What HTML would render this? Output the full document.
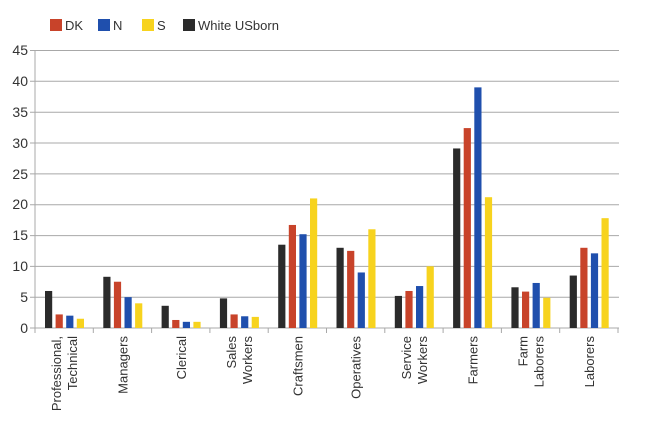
<!DOCTYPE html>
<html><head><meta charset="utf-8"><style>body{margin:0;background:#fff}svg{display:block}text{font-family:"Liberation Sans",sans-serif;fill:#333}</style></head><body>
<svg width="645" height="422" xmlns="http://www.w3.org/2000/svg">
<g font-size="13">
<rect x="50" y="19" width="12" height="12" fill="#c8432a"/><text x="65" y="30">DK</text>
<rect x="98" y="19" width="12" height="12" fill="#1f4fad"/><text x="113" y="30">N</text>
<rect x="142" y="19" width="12" height="12" fill="#f7d31e"/><text x="157" y="30">S</text>
<rect x="183" y="19" width="12" height="12" fill="#2b2b2b"/><text x="198" y="30">White USborn</text>
</g>
<g stroke="#a8a8a8" stroke-width="1">
<line x1="30" y1="50.5" x2="619" y2="50.5"/><line x1="30" y1="81.3" x2="619" y2="81.3"/><line x1="30" y1="112.2" x2="619" y2="112.2"/><line x1="30" y1="143" x2="619" y2="143"/><line x1="30" y1="173.9" x2="619" y2="173.9"/><line x1="30" y1="204.7" x2="619" y2="204.7"/><line x1="30" y1="235.6" x2="619" y2="235.6"/><line x1="30" y1="266.4" x2="619" y2="266.4"/><line x1="30" y1="297.3" x2="619" y2="297.3"/>
<line x1="30" y1="328" x2="619" y2="328"/><line x1="35" y1="50" x2="35" y2="328"/>
</g>
<g font-size="14" text-anchor="end">
<text x="28" y="55">45</text><text x="28" y="86">40</text><text x="28" y="117">35</text><text x="28" y="148">30</text><text x="28" y="179">25</text><text x="28" y="209">20</text><text x="28" y="240">15</text><text x="28" y="271">10</text><text x="28" y="302">5</text><text x="28" y="333">0</text>
</g>
<g id="bars"></g>
<g id="ticks" stroke="#a8a8a8"></g>
<g id="labels" font-size="13" text-anchor="end"></g>
<script>
var d=[[6,2.2,2,1.5],[8.3,7.5,5,4],[3.6,1.3,1,1],[4.8,2.2,1.9,1.8],[13.5,16.7,15.2,21],[13,12.5,9,16],[5.2,6,6.8,10],[29.1,32.4,39,21.2],[6.6,5.9,7.3,4.9],[8.5,13,12.1,17.8]];
var c=["#2b2b2b","#c8432a","#1f4fad","#f7d31e"];
var L=[["Professional,","Technical"],["Managers"],["Clerical"],["Sales","Workers"],["Craftsmen"],["Operatives"],["Service","Workers"],["Farmers"],["Farm","Laborers"],["Laborers"]];
var ns="http://www.w3.org/2000/svg",w=58.3,s=6.17;
function el(t,a,p,tx){var e=document.createElementNS(ns,t);for(var k in a)e.setAttribute(k,a[k]);if(tx)e.textContent=tx;document.getElementById(p).appendChild(e);}
for(var i=0;i<10;i++){var x0=35+i*w;
for(var j=0;j<4;j++){var h=d[i][j]*s;el("rect",{x:x0+10+j*10.6,y:328-h,width:7.2,height:h,fill:c[j]},"bars");}
el("line",{x1:35+(i+1)*w,y1:328,x2:35+(i+1)*w,y2:333},"ticks");
var cx=x0+w/2,l=L[i];
if(l.length==1)el("text",{transform:"translate("+(cx+5)+",336) rotate(-90)"},"labels",l[0]);
else{el("text",{transform:"translate("+(cx-3)+",336) rotate(-90)"},"labels",l[0]);el("text",{transform:"translate("+(cx+13)+",336) rotate(-90)"},"labels",l[1]);}
}
el("line",{x1:35,y1:328,x2:35,y2:333},"ticks");
</script>
</svg>
</body></html>
